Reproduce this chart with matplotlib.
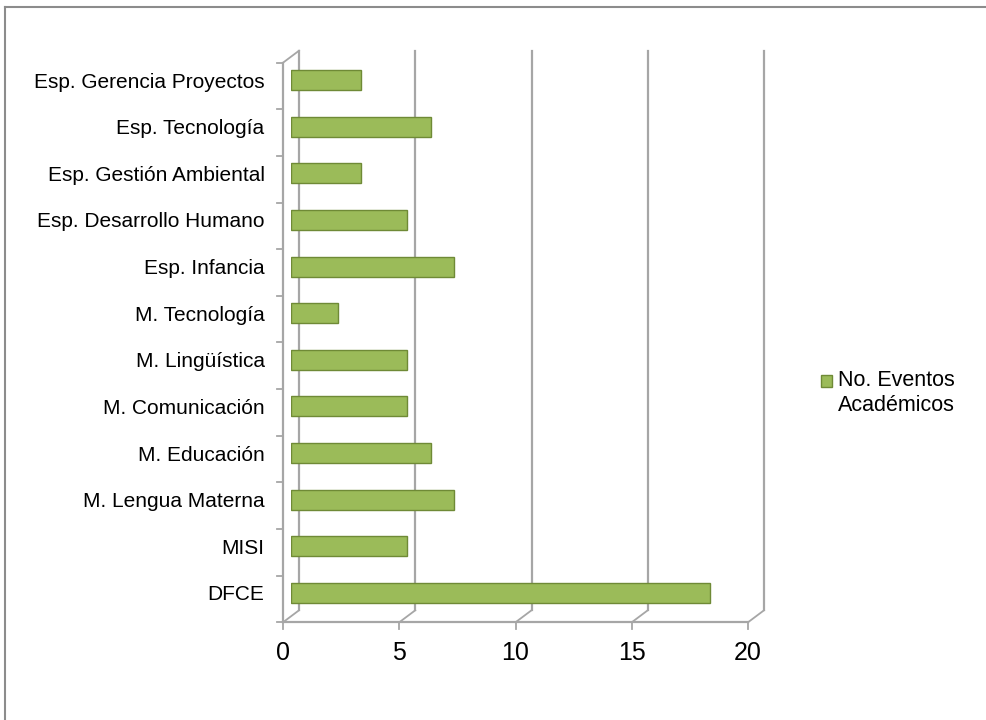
import matplotlib
matplotlib.use('Agg')
import matplotlib.pyplot as plt
import matplotlib.transforms as mtransforms
from matplotlib.lines import Line2D
from matplotlib.patches import Rectangle
from matplotlib.legend_handler import HandlerPatch

plt.rcParams['font.family'] = ['Liberation Sans', 'DejaVu Sans']

# Data (bottom to top)
categories = ['DFCE', 'MISI', 'M. Lengua Materna', 'M. Educación', 'M. Comunicación',
              'M. Lingüística', 'M. Tecnología', 'Esp. Infancia', 'Esp. Desarrollo Humano',
              'Esp. Gestión Ambiental', 'Esp. Tecnología', 'Esp. Gerencia Proyectos']
eventos = [18, 5, 7, 6, 5, 5, 2, 7, 5, 3, 6, 3]
x_ticks = [0, 5, 10, 15, 20]
series_name = 'No. Eventos\nAcadémicos'

grid_col = '#a6a6a6'
bar_col = '#9bbb59'
edge_col = '#6f8a36'

fig = plt.figure(figsize=(9.86, 7.2), dpi=100)
ax = fig.add_axes([291 / 986, (720 - 616.3) / 720, 465 / 986, 559.6 / 720])

n = len(categories)
y0, y1 = -0.5, n - 0.5
ax.set_xlim(0, 20)
ax.set_ylim(y0, y1)

# depth offsets for the fake 3D walls (pixels -> inches)
def shift(dx, dy):
    return mtransforms.ScaledTranslation(dx / 100, dy / 100, fig.dpi_scale_trans)

back = shift(8, 6)
front = shift(-8, -6)


def seg(p, q, off_p, off_q, lw=1.3):
    a = (ax.transData + off_p).transform(p)
    b = (ax.transData + off_q).transform(q)
    fig.add_artist(Line2D([a[0], b[0]], [a[1], b[1]], color=grid_col, lw=lw,
                          transform=mtransforms.IdentityTransform(), zorder=1))


# back wall gridlines + floor diagonals
for xv in x_ticks:
    ax.plot([xv, xv], [y0, y1], color=grid_col, lw=1.6, transform=ax.transData + back,
            clip_on=False, zorder=1)
    seg((xv, y0), (xv, y0), back, front)

# front floor edge, left side edge, top-left diagonal
ax.plot([0, 20], [y0, y0], color=grid_col, lw=1.6, transform=ax.transData + front,
        clip_on=False, zorder=1)
ax.plot([0, 0], [y0, y1], color=grid_col, lw=1.6, transform=ax.transData + front,
        clip_on=False, zorder=1)
seg((0, y1), (0, y1), back, front)

# tick marks on the front edges
for i in range(n + 1):
    seg((0, i - 0.5), (0, i - 0.5), front, shift(-14, -6))
for xv in x_ticks:
    seg((xv, y0), (xv, y0), front, shift(-8, -13))

bars = ax.barh(range(n), eventos, height=0.43, color=bar_col, edgecolor=edge_col,
               linewidth=1.0, zorder=3, label=series_name)

ax.set_yticks(range(n))
ax.set_yticklabels(categories, fontsize=15)
ax.tick_params(axis='y', length=0, pad=19)
ax.set_xticks([])
for s in ax.spines.values():
    s.set_visible(False)
ax.patch.set_visible(False)

# x tick labels sit under the front edge
lab_off = shift(-8, -37)
for xv in x_ticks:
    ax.text(xv, 0, str(xv), transform=ax.get_xaxis_transform() + lab_off,
            ha='center', va='center', fontsize=18)


# legend square sits next to the first line of the label
def top_square(legend, orig_handle, xdescent, ydescent, width, height, fontsize):
    return Rectangle((-xdescent, -ydescent + 9), width, height)


leg = fig.legend(handles=[bars[0]], labels=[series_name], loc='center left',
                 bbox_to_anchor=(802 / 986, (720 - 393) / 720), frameon=False,
                 fontsize=15.5, handlelength=0.5, handleheight=0.5, handletextpad=0.25,
                 handler_map={Rectangle: HandlerPatch(patch_func=top_square)})
leg.get_texts()[0].set_linespacing(1.3)

# chart area border (top and left visible)
fig.add_artist(Line2D([5 / 986, 1], [1 - 7 / 720, 1 - 7 / 720], color='#8c8c8c', lw=1.5))
fig.add_artist(Line2D([5 / 986, 5 / 986], [0, 1 - 7 / 720], color='#8c8c8c', lw=1.5))

fig.savefig('out.png', dpi=100)
